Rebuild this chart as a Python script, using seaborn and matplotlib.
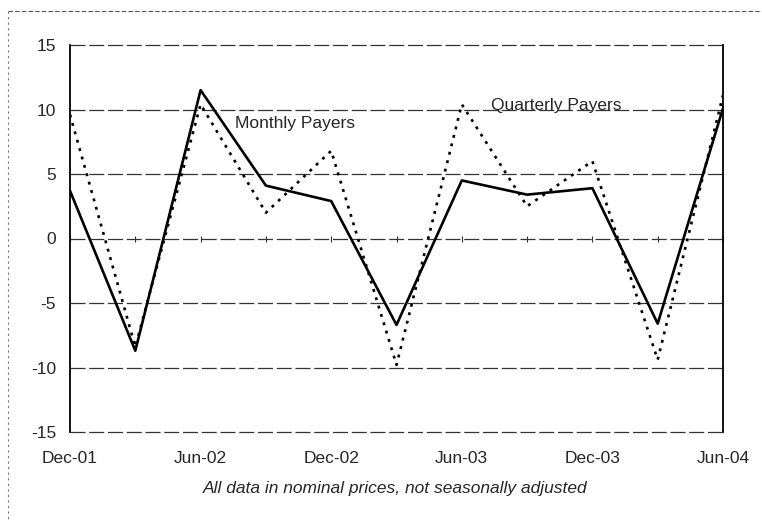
import matplotlib
matplotlib.use("Agg")
import matplotlib.pyplot as plt
import seaborn as sns
import pandas as pd
from matplotlib.lines import Line2D

quarters = ["Dec-01", "Mar-02", "Jun-02", "Sep-02", "Dec-02", "Mar-03",
            "Jun-03", "Sep-03", "Dec-03", "Mar-04", "Jun-04"]
monthly = [3.7, -8.7, 11.5, 4.1, 2.9, -6.7, 4.5, 3.4, 3.9, -6.6, 10.1]
quarterly = [9.6, -8.4, 10.4, 2.0, 6.8, -9.8, 10.4, 2.5, 6.0, -9.4, 11.1]
tick_labels = ["Dec-01", "Jun-02", "Dec-02", "Jun-03", "Dec-03", "Jun-04"]
y_ticks = [-15, -10, -5, 0, 5, 10, 15]

df = pd.DataFrame({
    "idx": list(range(len(quarters))) * 2,
    "value": monthly + quarterly,
    "series": ["Monthly Payers"] * len(quarters) + ["Quarterly Payers"] * len(quarters),
})

sns.set_style("white")
plt.rcParams["font.family"] = ["Liberation Sans", "DejaVu Sans"]

fig = plt.figure(figsize=(7.62, 5.22), dpi=100)
ax = fig.add_axes([70 / 762, 1 - 432 / 522, (723 - 70) / 762, (432 - 45) / 522])

sns.lineplot(data=df, x="idx", y="value", hue="series", style="series",
             palette={"Monthly Payers": "black", "Quarterly Payers": "black"},
             dashes={"Monthly Payers": "", "Quarterly Payers": (1.1, 2.2)},
             linewidth=1.9, legend=False, ax=ax)

ax.set_xlim(0, len(quarters) - 1)
ax.set_ylim(-15, 15)
ax.set_yticks(y_ticks)
ax.set_yticklabels([str(v) for v in y_ticks], fontsize=12.5)
ax.tick_params(axis="y", length=0, pad=10)
for v in y_ticks:
    ax.axhline(v, color="#333333", lw=0.9, ls=(0, (12, 3)), zorder=0, clip_on=False)

# x axis crossing at zero with small ticks, labels at the bottom
ax.spines["bottom"].set_position(("data", 0))
ax.spines["bottom"].set_visible(False)
ax.spines["top"].set_visible(False)
ax.spines["left"].set_linewidth(1.3)
ax.spines["right"].set_linewidth(1.3)
ax.spines["left"].set_color("black")
ax.spines["right"].set_color("black")
ax.set_xticks(range(len(quarters)))
ax.tick_params(axis="x", bottom=True, length=4, width=0.8, direction="inout",
               labelbottom=False, color="#333333")
ax.set_xlabel("")
ax.set_ylabel("")

sec = ax.secondary_xaxis(0)
sec.set_xticks(range(0, len(quarters), 2))
sec.set_xticklabels(tick_labels, fontsize=12.5)
sec.tick_params(length=0, pad=14)
sec.spines["bottom"].set_visible(False)

ax.text(2.53, 8.9, "Monthly Payers", fontsize=12.5, ha="left", va="center")
ax.text(6.45, 10.3, "Quarterly Payers", fontsize=12.5, ha="left", va="center")

fig.text(395 / 762, 1 - 489 / 522, "All data in nominal prices, not seasonally adjusted",
         fontsize=12.5, style="italic", ha="center", va="center")

# outer frame of the original exhibit
fig.add_artist(Line2D([8 / 762, 1], [1 - 11 / 522, 1 - 11 / 522],
                      transform=fig.transFigure, color="#555555", lw=0.8,
                      ls=(0, (4, 2))))
fig.add_artist(Line2D([8 / 762, 8 / 762], [1 - 11 / 522, 0],
                      transform=fig.transFigure, color="#777777", lw=0.8,
                      ls=(0, (2, 3))))

fig.savefig("out.png", dpi=100)
